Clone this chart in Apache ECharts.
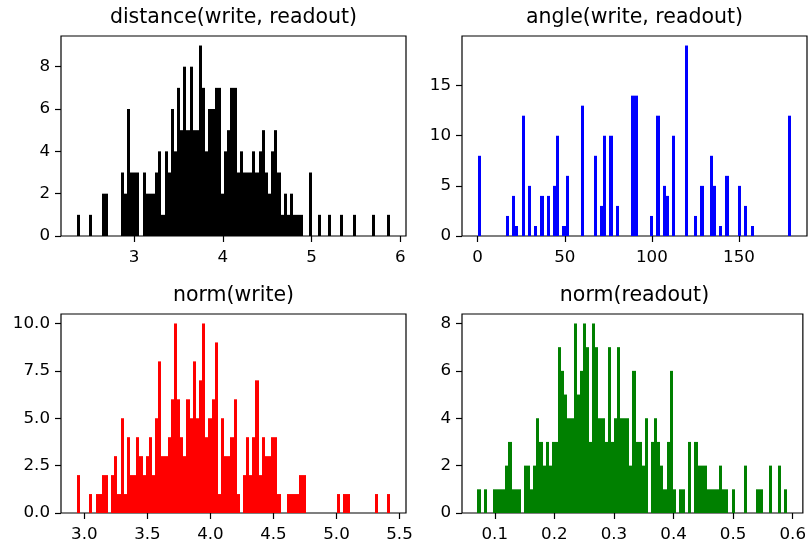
<!DOCTYPE html>
<html>
<head>
<meta charset="utf-8">
<script src="https://cdn.jsdelivr.net/npm/echarts@6/dist/echarts.min.js"></script>
<style>
    html, body {margin: 0; padding: 0; background: #fff;}
    #chart {width: 809px; height: 544px;}
</style>
</head>
<body>
<div id="chart"></div>
<script>
//distance(write, readout)
var distRange = [2.353, 5.888];
var distCounts = [1, 0, 0, 0, 1, 0, 0, 0, 2, 2,
    0, 0, 0, 0, 3, 2, 6, 3, 3, 3,
    0, 3, 2, 2, 2, 3, 4, 1, 4, 3,
    6, 4, 7, 5, 8, 5, 8, 5, 5, 9,
    7, 4, 6, 6, 7, 7, 2, 4, 5, 7,
    7, 3, 4, 3, 3, 3, 4, 3, 4, 5,
    3, 2, 4, 5, 3, 1, 2, 1, 2, 1,
    1, 1, 0, 0, 3, 0, 0, 1, 0, 0,
    1, 0, 0, 0, 1, 0, 0, 0, 1, 0,
    0, 0, 0, 0, 1, 0, 0, 0, 0, 1];
var distXTicks = [3, 4, 5, 6];
var distYTicks = [0, 2, 4, 6, 8];

//angle(write, readout)
var angleRange = [0, 180];
var angleCounts = [8, 0, 0, 0, 0, 0, 0, 0, 0, 2,
    0, 4, 1, 0, 12, 0, 5, 0, 1, 0,
    4, 0, 4, 0, 5, 10, 0, 1, 6, 0,
    0, 0, 0, 13, 0, 0, 0, 8, 0, 3,
    10, 0, 10, 0, 3, 0, 0, 0, 0, 14,
    14, 0, 0, 0, 0, 2, 0, 12, 0, 5,
    4, 0, 10, 0, 0, 0, 19, 0, 0, 2,
    0, 5, 0, 0, 8, 5, 0, 1, 0, 6,
    0, 0, 0, 5, 0, 3, 0, 1, 0, 0,
    0, 0, 0, 0, 0, 0, 0, 0, 0, 12];
var angleXTicks = [0, 50, 100, 150];
var angleYTicks = [0, 5, 10, 15];

//norm(write)
var writeRange = [2.939, 5.427];
var writeCounts = [2, 0, 0, 0, 1, 0, 1, 1, 2, 2,
    0, 2, 3, 1, 5, 1, 4, 2, 2, 4,
    3, 2, 3, 4, 2, 5, 8, 3, 3, 4,
    6, 10, 6, 4, 3, 6, 5, 8, 5, 7,
    10, 4, 5, 6, 9, 1, 5, 3, 3, 4,
    6, 1, 0, 2, 4, 2, 4, 7, 2, 4,
    3, 3, 4, 4, 1, 0, 0, 1, 1, 1,
    1, 2, 2, 0, 0, 0, 0, 0, 0, 0,
    0, 0, 0, 1, 0, 1, 1, 0, 0, 0,
    0, 0, 0, 0, 0, 1, 0, 0, 0, 1];
var writeXTicks = [3.0, 3.5, 4.0, 4.5, 5.0, 5.5];
var writeYTicks = [0, 2.5, 5.0, 7.5, 10.0];

//norm(readout)
var readRange = [0.071, 0.591];
var readCounts = [1, 0, 1, 0, 0, 1, 1, 1, 1, 2,
    3, 1, 1, 1, 0, 2, 2, 1, 2, 4,
    3, 2, 3, 2, 3, 3, 7, 6, 5, 4,
    4, 8, 5, 6, 8, 7, 3, 8, 7, 4,
    4, 3, 7, 3, 4, 7, 4, 4, 4, 2,
    6, 3, 3, 2, 4, 0, 3, 4, 3, 2,
    1, 3, 6, 1, 0, 1, 1, 0, 3, 0,
    3, 2, 2, 2, 1, 1, 1, 1, 2, 1,
    1, 0, 1, 0, 0, 0, 2, 0, 0, 0,
    1, 1, 0, 0, 2, 0, 0, 2, 0, 1];
var readXTicks = [0.1, 0.2, 0.3, 0.4, 0.5, 0.6];
var readYTicks = [0, 2, 4, 6, 8];

var font = 'DejaVu Sans';

//bin edges -> [x0, x1, count]
function bins(range, counts) {
    var w = (range[1] - range[0]) / counts.length;
    var out = [];
    for (var i = 0; i < counts.length; i++) {
        if (counts[i] > 0) {
            out.push([range[0] + i * w, range[0] + (i + 1) * w, counts[i]]);
        }
    }
    return out;
}

//snap edges to whole pixels so neighbouring bins join without seams
function barItem(params, api) {
    var top = api.coord([api.value(0), api.value(2)]);
    var bottom = api.coord([api.value(1), 0]);
    var x0 = Math.round(top[0]);
    var x1 = Math.round(bottom[0]);
    if (x1 - x0 < 2) {
        x1 = x0 + 2;
    }
    return {
        type: 'rect',
        shape: {x: x0, y: top[1], width: x1 - x0, height: bottom[1] - top[1]},
        style: {fill: api.visual('color')}
    };
}

function tickLabel(ticks, digits, margin) {
    return {
        customValues: ticks,
        margin: margin,
        color: '#000',
        fontSize: 16.7,
        fontFamily: font,
        formatter: function (v) {
            return v.toFixed(digits);
        }
    };
}

function xAxis(idx, range, ticks, digits) {
    var pad = (range[1] - range[0]) * 0.05;
    return {
        type: 'value',
        gridIndex: idx,
        min: range[0] - pad,
        max: range[1] + pad,
        axisLine: {show: false, onZero: false},
        splitLine: {show: false},
        axisTick: {show: true, customValues: ticks, length: 6, lineStyle: {color: '#000', width: 1.2}},
        axisLabel: tickLabel(ticks, digits, 13)
    };
}

function yAxis(idx, counts, ticks, digits) {
    return {
        type: 'value',
        gridIndex: idx,
        min: 0,
        max: Math.max.apply(null, counts) * 1.05,
        axisLine: {show: false, onZero: false},
        splitLine: {show: false},
        axisTick: {show: true, customValues: ticks, length: 6, lineStyle: {color: '#000', width: 1.2}},
        axisLabel: tickLabel(ticks, digits, 11)
    };
}

function title(text, x, y) {
    return {
        text: text,
        left: x,
        top: y,
        textAlign: 'center',
        padding: 0,
        textStyle: {fontSize: 20.5, fontWeight: 'normal', color: '#000', fontFamily: font}
    };
}

function grid(x, y, h) {
    return {left: x, top: y, width: 345, height: h, show: true, borderColor: '#000', borderWidth: 1.2, backgroundColor: 'transparent'};
}

var chart = echarts.init(document.getElementById('chart'));
var option = {
    animation: false,
    backgroundColor: '#fff',
    title: [
        title('distance(write, readout)', 233.5, 7),
        title('angle(write, readout)', 634.5, 7),
        title('norm(write)', 233.5, 285),
        title('norm(readout)', 634.5, 285)
    ],
    grid: [
        grid(61, 36, 200),
        grid(462, 36, 200),
        grid(61, 314, 199),
        grid(462, 314, 199)
    ],
    xAxis: [
        xAxis(0, distRange, distXTicks, 0),
        xAxis(1, angleRange, angleXTicks, 0),
        xAxis(2, writeRange, writeXTicks, 1),
        xAxis(3, readRange, readXTicks, 1)
    ],
    yAxis: [
        yAxis(0, distCounts, distYTicks, 0),
        yAxis(1, angleCounts, angleYTicks, 0),
        yAxis(2, writeCounts, writeYTicks, 1),
        yAxis(3, readCounts, readYTicks, 0)
    ],
    series: [
        {type: 'custom', xAxisIndex: 0, yAxisIndex: 0, renderItem: barItem, color: '#000000', encode: {x: [0, 1], y: 2}, data: bins(distRange, distCounts)},
        {type: 'custom', xAxisIndex: 1, yAxisIndex: 1, renderItem: barItem, color: '#0000ff', encode: {x: [0, 1], y: 2}, data: bins(angleRange, angleCounts)},
        {type: 'custom', xAxisIndex: 2, yAxisIndex: 2, renderItem: barItem, color: '#ff0000', encode: {x: [0, 1], y: 2}, data: bins(writeRange, writeCounts)},
        {type: 'custom', xAxisIndex: 3, yAxisIndex: 3, renderItem: barItem, color: '#008000', encode: {x: [0, 1], y: 2}, data: bins(readRange, readCounts)}
    ]
};
chart.setOption(option);
</script>
</body>
</html>
